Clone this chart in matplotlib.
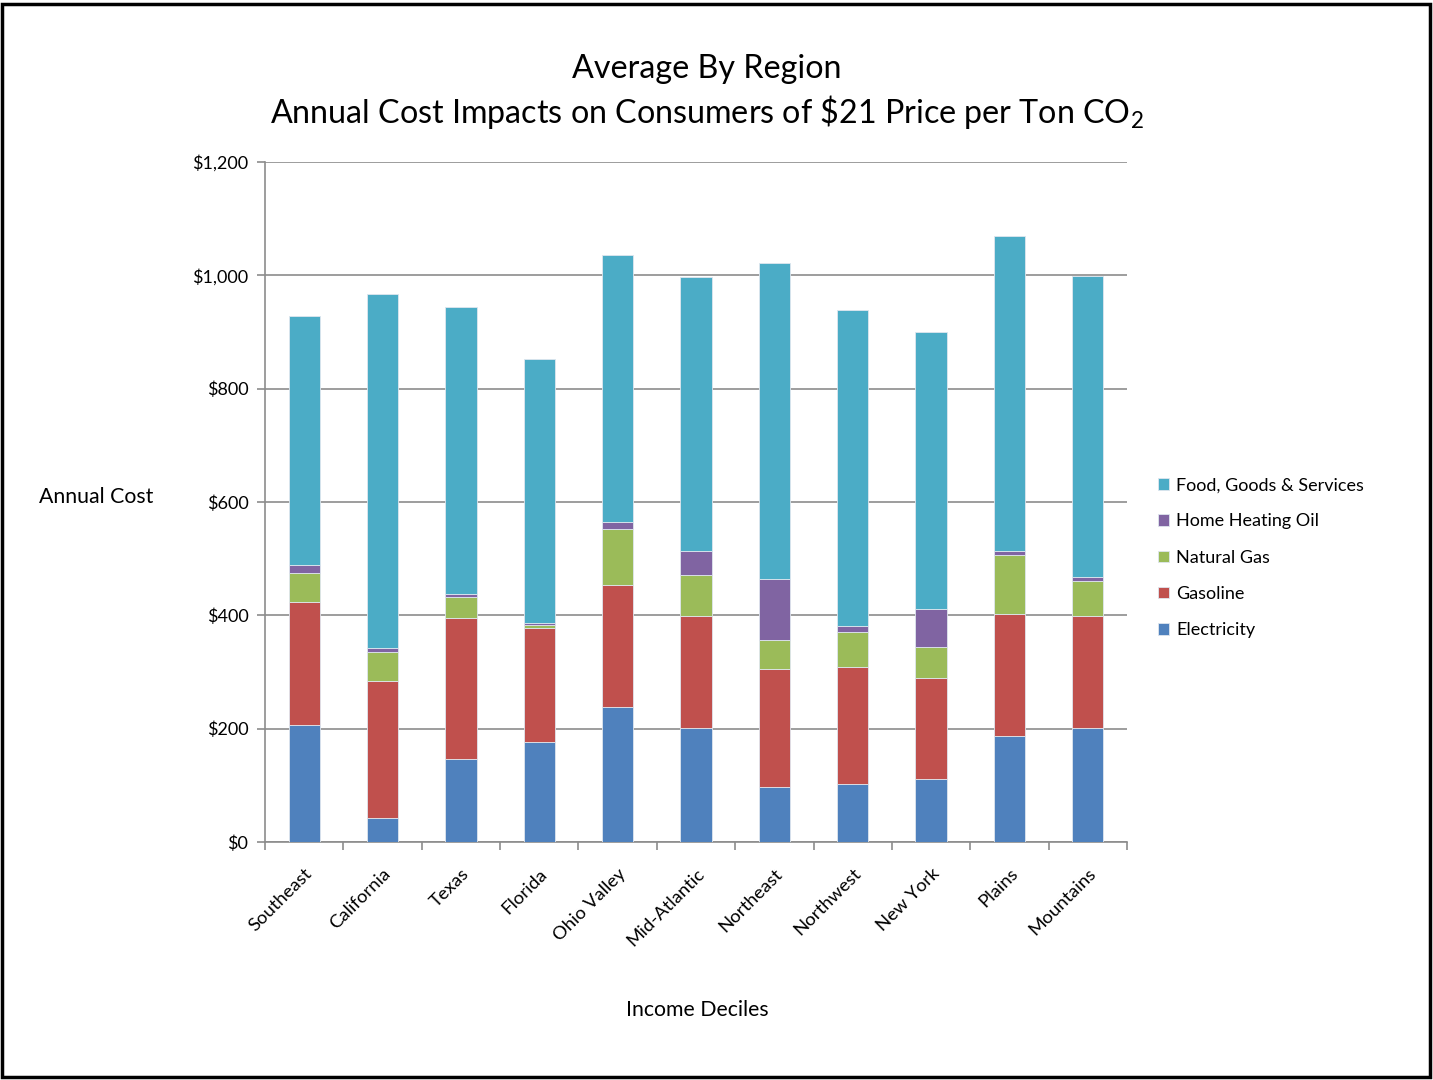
import numpy as np
import matplotlib
matplotlib.use("Agg")
import matplotlib.pyplot as plt
from matplotlib.patches import Rectangle

plt.rcParams['font.family'] = ['Lato', 'DejaVu Sans']
plt.rcParams['mathtext.fontset'] = 'custom'
plt.rcParams['mathtext.rm'] = 'Lato'
plt.rcParams['mathtext.it'] = 'Lato'

regions = ['Southeast', 'California', 'Texas', 'Florida', 'Ohio Valley', 'Mid-Atlantic',
           'Northeast', 'Northwest', 'New York', 'Plains', 'Mountains']

# annual cost per household, dollars
electricity = [206, 42, 147, 176, 238, 202, 97, 102, 111, 187, 202]
gasoline = [218, 242, 248, 202, 215, 196, 209, 207, 179, 216, 197]
natural_gas = [50, 51, 37, 5, 99, 74, 51, 61, 55, 103, 62]
heating_oil = [14, 7, 6, 3, 13, 41, 107, 12, 66, 7, 6]
food_goods = [440, 625, 506, 466, 471, 484, 558, 557, 489, 557, 532]

series = [
    ('Electricity', electricity, '#4F81BD'),
    ('Gasoline', gasoline, '#C0504D'),
    ('Natural Gas', natural_gas, '#9BBB59'),
    ('Home Heating Oil', heating_oil, '#8064A2'),
    ('Food, Goods & Services', food_goods, '#4BACC6'),
]

fig = plt.figure(figsize=(14.33, 10.8), dpi=100)
ax = fig.add_axes([265 / 1433, 1 - 842 / 1080, 862 / 1433, 680 / 1080])

x = np.arange(len(regions))
bottom = np.zeros(len(regions))
handles = []
for name, vals, color in series:
    b = ax.bar(x, vals, 0.4, bottom=bottom, color=color, label=name,
               edgecolor='#dfe6ee', linewidth=0.6, zorder=3)
    handles.append(b)
    bottom += np.array(vals)

ax.set_xlim(-0.5, len(regions) - 0.5)
ax.set_ylim(0, 1200)
ax.set_yticks(range(0, 1201, 200))
ax.set_yticklabels(['${:,}'.format(v) for v in range(0, 1201, 200)], fontsize=13)
ax.yaxis.grid(True, color='#8c8c8c', linewidth=1.2, zorder=0)

# category ticks sit between the bars
ax.set_xticks(np.arange(-0.5, len(regions)), minor=False)
ax.set_xticklabels([])
ax.set_xticks(x, minor=True)
ax.set_xticklabels(regions, minor=True, rotation=45, ha='right',
                   rotation_mode='anchor', fontsize=13.3)
ax.tick_params(axis='x', which='minor', length=0, pad=17)
ax.tick_params(axis='x', which='major', length=6, color='#8c8c8c', width=1.2)
ax.tick_params(axis='y', length=6, color='#8c8c8c', width=1.2, pad=6)

for side in ['top', 'right']:
    ax.spines[side].set_visible(False)
for side in ['left', 'bottom']:
    ax.spines[side].set_color('#8c8c8c')
    ax.spines[side].set_linewidth(1.2)

fig.text(707 / 1433, 1 - 69 / 1080, 'Average By Region', ha='center', va='center', fontsize=23.2)
fig.text(707 / 1433, 1 - 112 / 1080, 'Annual Cost Impacts on Consumers of \\$21 Price per Ton CO$_2$',
         ha='center', va='center', fontsize=23.2)
fig.text(96 / 1433, 1 - 497 / 1080, 'Annual Cost', ha='center', va='center', fontsize=15.3)
fig.text(697 / 1433, 1 - 1010 / 1080, 'Income Deciles', ha='center', va='center', fontsize=15.3)

fig.legend(handles[::-1], [s[0] for s in series][::-1], loc='upper left',
           bbox_to_anchor=(1142 / 1433, 1 - 461 / 1080), frameon=False, fontsize=13,
           handlelength=0.6, handleheight=0.6, handletextpad=0.4, labelspacing=1.12)

# outer frame
fig.patches.append(Rectangle((2 / 1433, 3 / 1080), 1428 / 1433, 1073 / 1080,
                             transform=fig.transFigure, fill=False,
                             edgecolor='black', linewidth=2.5))

fig.savefig('out.png', dpi=100)
